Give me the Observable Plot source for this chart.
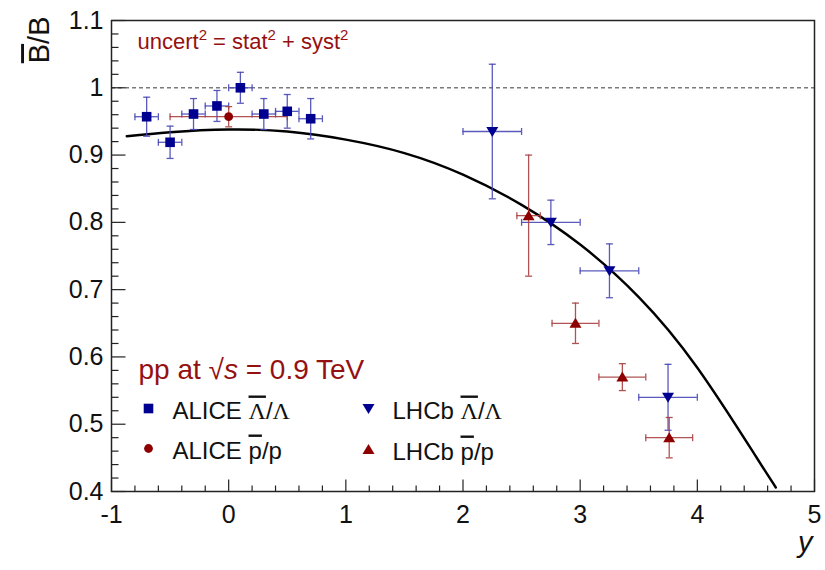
<!DOCTYPE html>
<html>
<head>
<meta charset="utf-8">
<script src="https://cdn.jsdelivr.net/npm/d3@7"></script>
<script src="https://cdn.jsdelivr.net/npm/@observablehq/plot@0.6"></script>
<style>
  html, body { margin: 0; padding: 0; background: #fff; }
  #chart { width: 825px; height: 570px; }
</style>
</head>
<body>
<div id="chart"></div>
<script>
// ALICE anti-Lambda/Lambda ratio vs rapidity
const aliceLamX   = [-0.7, -0.5, -0.3, -0.1, 0.1, 0.3, 0.5, 0.7];
const aliceLamY   = [0.957, 0.919, 0.961, 0.973, 1.000, 0.961, 0.965, 0.954];
const aliceLamEy  = [0.029, 0.024, 0.023, 0.023, 0.023, 0.023, 0.025, 0.030];
const aliceLamEx  = [0.1, 0.1, 0.1, 0.1, 0.1, 0.1, 0.1, 0.1];

// ALICE pbar/p ratio
const alicePX  = [0.0];
const alicePY  = [0.957];
const alicePEy = [0.015];
const alicePEx = [0.5];

// LHCb anti-Lambda/Lambda ratio
const lhcbLamX  = [2.25, 2.75, 3.25, 3.75];
const lhcbLamY  = [0.935, 0.800, 0.728, 0.540];
const lhcbLamEy = [0.100, 0.033, 0.040, 0.049];
const lhcbLamEx = [0.25, 0.25, 0.25, 0.25];

// LHCb pbar/p ratio
const lhcbPX  = [2.56, 2.96, 3.36, 3.76];
const lhcbPY  = [0.810, 0.650, 0.570, 0.480];
const lhcbPEy = [0.090, 0.030, 0.020, 0.030];
const lhcbPEx = [0.10, 0.20, 0.20, 0.20];

// model curve
const curveX = [-0.87, -0.5, 0.0, 0.5, 1.0, 1.5, 2.0, 2.5, 3.0, 3.5, 4.0, 4.5, 4.67];
const curveY = [0.928, 0.934, 0.938, 0.935, 0.923, 0.903, 0.871, 0.826, 0.767, 0.689, 0.584, 0.452, 0.406];

// axis ticks
const xMajor = [-1, 0, 1, 2, 3, 4, 5];
const yMajor = [0.4, 0.5, 0.6, 0.7, 0.8, 0.9, 1, 1.1];
const xMinor = d3.range(-10, 51, 2).filter(i => i % 10 !== 0).map(i => i / 10);
const yMinor = d3.range(20, 56, 1).filter(i => i % 5 !== 0).map(i => i / 50);

const BLUE = "#000090", BLUE_ERR = "#4848b6";
const RED = "#8e0000", RED_ERR = "#a84040";
const TEXT_RED = "#951010";

const pts = (X, Y, EX, EY) => X.map((x, i) => ({x, y: Y[i], ex: EX[i], ey: EY[i]}));
const aliceLam = pts(aliceLamX, aliceLamY, aliceLamEx, aliceLamEy);
const aliceP   = pts(alicePX, alicePY, alicePEx, alicePEy);
const lhcbLam  = pts(lhcbLamX, lhcbLamY, lhcbLamEx, lhcbLamEy);
const lhcbP    = pts(lhcbPX, lhcbPY, lhcbPEx, lhcbPEy);
const curve    = curveX.map((x, i) => ({x, y: curveY[i]}));

// custom path symbols
const seg = (x0, y0, x1, y1) => ({draw(c) { c.moveTo(x0, y0); c.lineTo(x1, y1); }});
const capH = seg(-3.5, 0, 3.5, 0);
const capV = seg(0, -3.5, 0, 3.5);
const square = {draw(c) { c.rect(-4.8, -4.8, 9.6, 9.6); }};
const triUp = {draw(c) { c.moveTo(0, -5.5); c.lineTo(6, 4.5); c.lineTo(-6, 4.5); c.closePath(); }};
const triDown = {draw(c) { c.moveTo(0, 5.5); c.lineTo(6, -4.5); c.lineTo(-6, -4.5); c.closePath(); }};
const circle = {draw(c) { c.moveTo(4.4, 0); c.arc(0, 0, 4.4, 0, 2 * Math.PI); }};

function errorMarks(data, color) {
  const s = {stroke: color, strokeWidth: 1.3, strokeOpacity: 0.9};
  return [
    Plot.ruleX(data, {x: "x", y1: d => d.y - d.ey, y2: d => d.y + d.ey, ...s}),
    Plot.ruleY(data, {y: "y", x1: d => d.x - d.ex, x2: d => d.x + d.ex, ...s}),
    Plot.dot(data, {x: "x", y: d => d.y - d.ey, symbol: capH, r: 1, fill: "none", ...s}),
    Plot.dot(data, {x: "x", y: d => d.y + d.ey, symbol: capH, r: 1, fill: "none", ...s}),
    Plot.dot(data, {x: d => d.x - d.ex, y: "y", symbol: capV, r: 1, fill: "none", ...s}),
    Plot.dot(data, {x: d => d.x + d.ex, y: "y", symbol: capV, r: 1, fill: "none", ...s})
  ];
}

const markers = (data, symbol, color) =>
  Plot.dot(data, {x: "x", y: "y", symbol, r: 1, fill: color, stroke: "none"});

const FONT = "'Liberation Sans', Arial, Helvetica, sans-serif";
const SERIF = "'Liberation Serif', 'Times New Roman', serif";

// legend layout (pixel offsets from the frame's top-left corner)
const legendRows = [
  {label: "ALICE Λ/Λ", symbol: square, color: BLUE, dx: 37, dy: 388},
  {label: "ALICE p/p", symbol: circle, color: RED, dx: 37, dy: 428},
  {label: "LHCb Λ/Λ", symbol: triDown, color: BLUE, dx: 257, dy: 388},
  {label: "LHCb p/p", symbol: triUp, color: RED, dx: 257, dy: 429}
];

const chart = Plot.plot({
  width: 825,
  height: 570,
  marginLeft: 111,
  marginRight: 11,
  marginTop: 20,
  marginBottom: 79,
  x: {domain: [-1, 5], axis: null},
  y: {domain: [0.4, 1.1], axis: null},
  style: {fontFamily: FONT, background: "#fff", overflow: "visible"},
  marks: [
    // reference line at unity
    Plot.ruleY([1], {stroke: "#7a7a7a", strokeWidth: 1.5, strokeDasharray: "4,3"}),

    // model curve
    Plot.line(curve, {x: "x", y: "y", stroke: "#000", strokeWidth: 2.4, curve: "natural"}),

    // error bars and markers
    ...errorMarks(aliceLam, BLUE_ERR),
    ...errorMarks(lhcbLam, BLUE_ERR),
    ...errorMarks(aliceP, RED_ERR),
    ...errorMarks(lhcbP, RED_ERR),
    markers(aliceLam, square, BLUE),
    markers(aliceP, circle, RED),
    markers(lhcbLam, triDown, BLUE),
    markers(lhcbP, triUp, RED),

    // inward ticks
    Plot.dot(xMajor, {x: d => d, frameAnchor: "bottom", symbol: seg(0, 0, 0, -12), r: 1, fill: "none", stroke: "#222", strokeWidth: 1.2}),
    Plot.dot(xMinor, {x: d => d, frameAnchor: "bottom", symbol: seg(0, 0, 0, -6), r: 1, fill: "none", stroke: "#222", strokeWidth: 1.2}),
    Plot.dot(yMajor, {y: d => d, frameAnchor: "left", symbol: seg(0, 0, 14, 0), r: 1, fill: "none", stroke: "#222", strokeWidth: 1.2}),
    Plot.dot(yMinor, {y: d => d, frameAnchor: "left", symbol: seg(0, 0, 7, 0), r: 1, fill: "none", stroke: "#222", strokeWidth: 1.2}),

    // tick labels
    Plot.text(xMajor, {x: d => d, frameAnchor: "bottom", text: d => String(d), dy: 31, fontSize: 25, fill: "#111"}),
    Plot.text(yMajor, {y: d => d, frameAnchor: "left", text: d => String(d), dx: -8, textAnchor: "end", fontSize: 25, fill: "#111"}),

    // axis titles
    Plot.text(["B/B"], {frameAnchor: "top-left", dx: -83, dy: -4, rotate: -90, textAnchor: "end", fontSize: 29, fill: "#111"}),
    Plot.text(["y"], {frameAnchor: "bottom-right", dx: -2, dy: 60, textAnchor: "end", fontSize: 29, fontStyle: "italic", fill: "#111"}),

    // annotations
    Plot.text(["uncert2 = stat2 + syst2"], {frameAnchor: "top-left", dx: 26, dy: 28, textAnchor: "start", lineAnchor: "bottom", fontSize: 22, fill: TEXT_RED}),
    Plot.text(["pp at √s = 0.9 TeV"], {frameAnchor: "top-left", dx: 27, dy: 358, textAnchor: "start", lineAnchor: "bottom", fontSize: 28, fill: TEXT_RED}),

    // legend
    ...legendRows.map(r => Plot.dot([r], {frameAnchor: "top-left", dx: r.dx, dy: r.dy, symbol: r.symbol, r: 1, fill: r.color, stroke: "none"})),
    ...legendRows.map(r => Plot.text([r.label], {frameAnchor: "top-left", dx: r.dx + 24, dy: r.dy + 10, textAnchor: "start", lineAnchor: "bottom", fontSize: 24, fill: "#111"})),

    Plot.frame({stroke: "#222", strokeWidth: 1.5})
  ]
});

// rich text: overlines, superscripts, serif Lambda, italic s
function rich(svg, key, parts) {
  d3.select(svg).selectAll("text")
    .filter(function() { return this.textContent === key; })
    .each(function() {
      const t = d3.select(this);
      t.text(null);
      for (const p of parts) {
        const s = t.append("tspan").text(p.t);
        if (p.over) s.style("text-decoration", "overline");
        if (p.font) s.style("font-family", p.font);
        if (p.italic) s.style("font-style", "italic");
        if (p.sup) s.attr("dy", -9).style("font-size", "15px");
        if (p.down) s.attr("dy", 9);
      }
    });
}
rich(chart, "B/B", [{t: "B", over: true}, {t: "/B"}]);
rich(chart, "ALICE Λ/Λ", [{t: "ALICE "}, {t: "Λ", over: true, font: SERIF}, {t: "/"}, {t: "Λ", font: SERIF}]);
rich(chart, "LHCb Λ/Λ", [{t: "LHCb "}, {t: "Λ", over: true, font: SERIF}, {t: "/"}, {t: "Λ", font: SERIF}]);
rich(chart, "ALICE p/p", [{t: "ALICE "}, {t: "p", over: true}, {t: "/p"}]);
rich(chart, "LHCb p/p", [{t: "LHCb "}, {t: "p", over: true}, {t: "/p"}]);
rich(chart, "pp at √s = 0.9 TeV", [{t: "pp at "}, {t: "√"}, {t: "s", italic: true}, {t: " = 0.9 TeV"}]);
rich(chart, "uncert2 = stat2 + syst2", [
  {t: "uncert"}, {t: "2", sup: true}, {t: " = stat", down: true}, {t: "2", sup: true},
  {t: " + syst", down: true}, {t: "2", sup: true}
]);

document.getElementById("chart").appendChild(chart);
</script>
</body>
</html>
